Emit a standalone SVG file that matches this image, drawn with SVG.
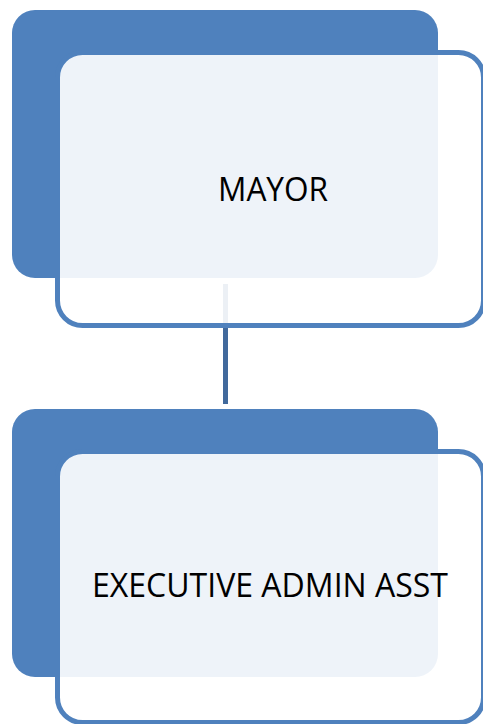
<svg xmlns="http://www.w3.org/2000/svg" width="483" height="724" viewBox="0 0 483 724">
<style>
.back{fill:#4F81BD;}
.front{fill:#FFFFFF;fill-opacity:0.9;stroke:#4F81BD;stroke-width:5;}
.lbl{font-family:"Open Sans","Liberation Sans",sans-serif;font-size:33.5px;fill:#000000;text-anchor:middle;}
.conn{stroke:#41699C;stroke-width:5;fill:none;}
</style>
<rect width="483" height="724" fill="#FFFFFF"/>
<g id="connectors">
<line class="conn" x1="225.5" y1="284" x2="225.5" y2="404"/>
</g>
<g id="node-mayor">
<rect class="back" x="12" y="10" width="426" height="268" rx="23" ry="23"/>
<rect class="front" x="57.5" y="52.5" width="426" height="273" rx="25" ry="25"/>
<text class="lbl" x="273" y="201" textLength="110" lengthAdjust="spacingAndGlyphs">MAYOR</text>
</g>
<g id="node-exec">
<rect class="back" x="12" y="409" width="426" height="268" rx="23" ry="23"/>
<rect class="front" x="57.5" y="451.5" width="426" height="271" rx="25" ry="25"/>
<text class="lbl" x="270" y="597" textLength="356" lengthAdjust="spacingAndGlyphs">EXECUTIVE ADMIN ASST</text>
</g>
</svg>
